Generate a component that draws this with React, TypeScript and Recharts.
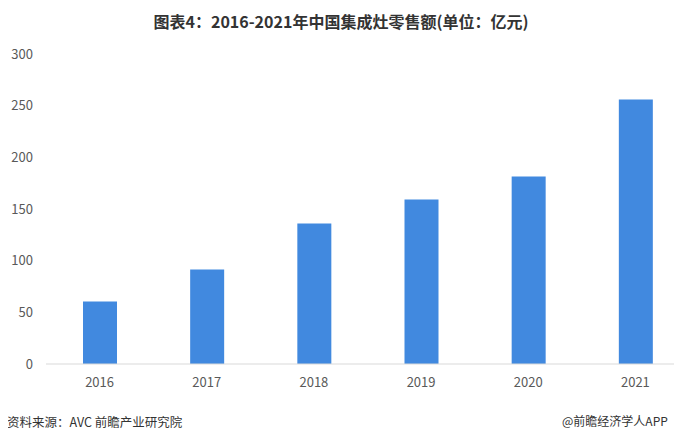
import { BarChart, Bar, XAxis, YAxis, CartesianGrid } from 'recharts';

const years = ['2016', '2017', '2018', '2019', '2020', '2021'];
const retailSales = [60.5, 91.5, 136, 159.2, 181.5, 256];
const yTicks = [0, 50, 100, 150, 200, 250, 300];

const data = years.map((year, i) => ({ year, value: retailSales[i] }));

const font = '"Noto Sans CJK SC", "Noto Sans", sans-serif';

export default function App() {
  return (
    <div style={{ position: 'relative', width: 682, height: 441, margin: -8, background: '#fff', fontFamily: font, overflow: 'hidden' }}>
      <div style={{ position: 'absolute', top: 9, left: 0, width: 682, textAlign: 'center', fontSize: 16, fontWeight: 'bold', color: '#333' }}>
        图表4：2016-2021年中国集成灶零售额(单位：亿元)
      </div>
      <BarChart width={682} height={441} data={data} margin={{ top: 54, right: 2, bottom: 47, left: 0 }}>
        <CartesianGrid horizontal={false} vertical={false} />
        <XAxis
          dataKey="year"
          height={30}
          padding={{ left: 0, right: -9 }}
          tickLine={false}
          axisLine={{ stroke: '#d9d9d9' }}
          tick={{ fontSize: 13, fill: '#595959', fontFamily: font }}
          tickMargin={8}
        />
        <YAxis
          width={46}
          domain={[0, 300]}
          ticks={yTicks}
          axisLine={false}
          tickLine={false}
          tick={{ fontSize: 13, fill: '#595959', fontFamily: font }}
          tickMargin={7}
        />
        <Bar dataKey="value" fill="#4189df" barSize={34} isAnimationActive={false} />
      </BarChart>
      <div style={{ position: 'absolute', top: 412, left: 7, fontSize: 12.5, color: '#333', whiteSpace: 'nowrap' }}>资料来源：AVC 前瞻产业研究院</div>
      <div style={{ position: 'absolute', top: 412, left: 562, fontSize: 12, color: '#333', whiteSpace: 'nowrap' }}>@前瞻经济学人APP</div>
    </div>
  );
}
